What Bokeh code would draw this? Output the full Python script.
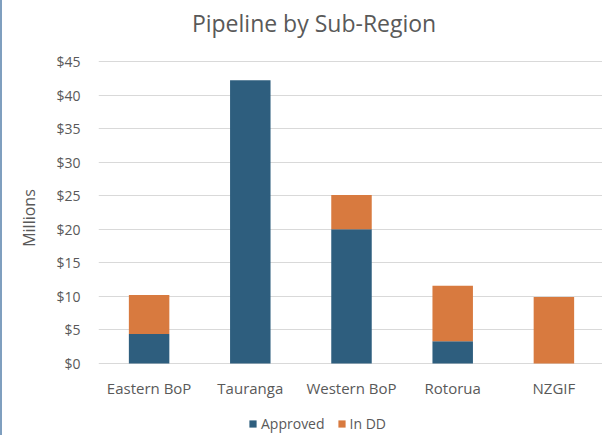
from bokeh.plotting import figure
from bokeh.models import (Label, Legend, LegendItem, NumeralTickFormatter,
                          FixedTicker, Range1d, FactorRange)
from bokeh.core.properties import value
from bokeh.embed import file_html
from bokeh.resources import INLINE

# Pipeline value per sub-region, in millions of dollars
regions = ["Eastern BoP", "Tauranga", "Western BoP", "Rotorua", "NZGIF"]
approved = [4.4, 42.2, 20.0, 3.3, 0.0]
in_dd = [5.8, 0.0, 5.1, 8.3, 9.9]
series = ["Approved", "In DD"]
colors = ["#2E5E7E", "#D87A3F"]
y_ticks = [0, 5, 10, 15, 20, 25, 30, 35, 40, 45]

FONT = "Open Sans"
GREY = "#595959"

data = {"region": regions, "Approved": approved, "In DD": in_dd}

# The plotting frame spans the full height of the canvas; the value axis
# runs 0..45 and the room above/below holds the title, labels and legend.
p = figure(
    x_range=FactorRange(factors=regions, start=0, end=4.88),
    y_range=Range1d(-10.73, 54.09),
    width=602, height=435,
    output_backend="svg", toolbar_location=None,
    min_border_left=96, min_border_right=0,
    min_border_top=0, min_border_bottom=0,
)
p.x_range.range_padding = 0
p.outline_line_color = None
p.background_fill_color = "white"
p.border_fill_color = "white"
p.styles = {"border-left": "2px solid #7F9FBF", "box-sizing": "border-box"}

renderers = p.vbar_stack(series, x="region", width=0.4, color=colors,
                         line_color=None, source=data)

# category labels under the bars
p.xaxis.visible = False
p.text(x=regions, y=[-3.58] * len(regions), text=regions,
       text_font=value(FONT), text_font_size="15px", text_color=GREY,
       text_align="center", text_baseline="middle")

# value axis
p.yaxis.ticker = FixedTicker(ticks=y_ticks)
p.yaxis.formatter = NumeralTickFormatter(format="$0")
p.yaxis.axis_line_color = None
p.yaxis.major_tick_line_color = None
p.yaxis.minor_tick_line_color = None
p.yaxis.major_tick_in = 0
p.yaxis.major_tick_out = 0
p.yaxis.major_label_text_font = FONT
p.yaxis.major_label_text_font_size = "14px"
p.yaxis.major_label_text_color = GREY
p.yaxis.major_label_standoff = 18
p.yaxis.axis_label = "Millions"
p.yaxis.axis_label_text_font = FONT
p.yaxis.axis_label_text_font_size = "16px"
p.yaxis.axis_label_text_font_style = "normal"
p.yaxis.axis_label_text_color = GREY
p.yaxis.axis_label_standoff = 13

p.xgrid.grid_line_color = None
p.ygrid.grid_line_color = "#D9D9D9"
p.ygrid.grid_line_width = 1

# chart title
p.add_layout(Label(x=2.13, y=50.8, text="Pipeline by Sub-Region",
                   text_font=FONT, text_font_size="23px",
                   text_color=GREY, text_align="center",
                   text_baseline="middle"))

legend = Legend(
    items=[LegendItem(label=s, renderers=[r]) for s, r in zip(series, renderers)],
    orientation="horizontal", location=(150, 2),
    label_text_font=FONT, label_text_font_size="14px",
    label_text_color=GREY, glyph_width=9, glyph_height=9,
    spacing=12, label_standoff=4, border_line_color=None,
    background_fill_alpha=0, padding=0, margin=0,
)
p.add_layout(legend, "center")

open("out.html", "w").write(file_html(p, INLINE))
